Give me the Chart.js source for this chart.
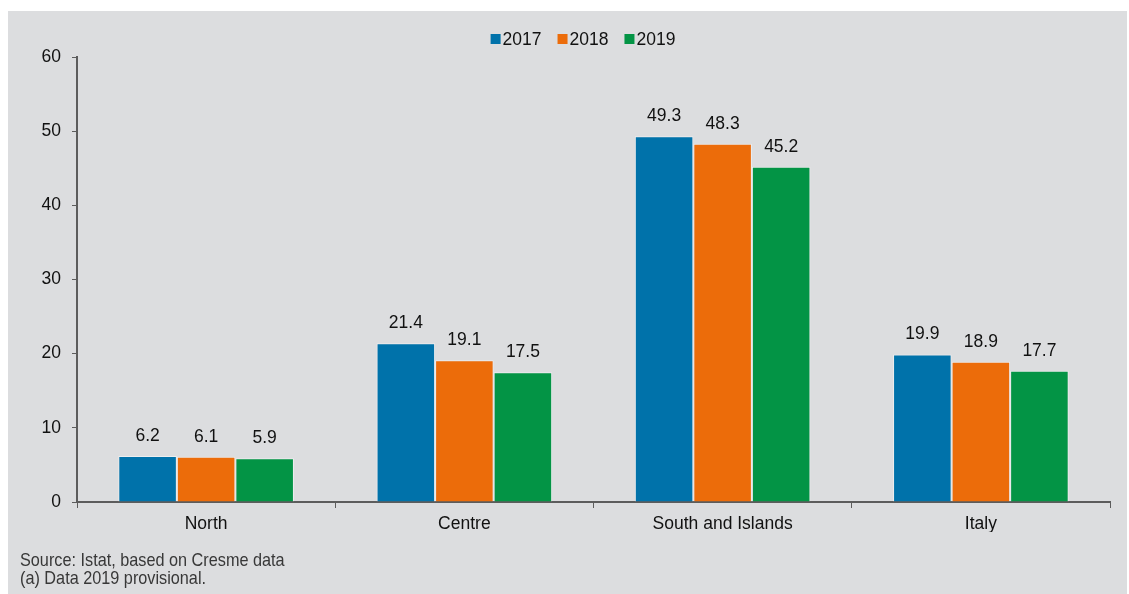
<!DOCTYPE html>
<html>
<head>
<meta charset="utf-8">
<script src="https://cdn.jsdelivr.net/npm/chart.js@4/dist/chart.umd.min.js"></script>
<style>
	body	{ margin: 0; background: #ffffff; }
	#panel	{ position: absolute; left: 8px; top: 11px; width: 1119px; height: 583px; background: #dcdddf; }
	#wrap	{ position: absolute; left: 0; top: 0; width: 1129px; height: 594px; }
	#note	{ position: absolute; left: 20px; top: 551px; font: 19px "Liberation Sans", Arial, sans-serif;
			  color: #383838; line-height: 18px; transform: scaleX( 0.855 ); transform-origin: left top; white-space: nowrap; }
</style>
</head>
<body>
<div id="panel"></div>
<div id="wrap"><canvas id="chart" width="1129" height="594"></canvas></div>
<div id="note">Source: Istat, based on Cresme data<br>(a) Data 2019 provisional.</div>
<script>
const CATEGORIES	= [ 'North', 'Centre', 'South and Islands', 'Italy' ];
const YEARS		= [ '2017', '2018', '2019' ];
const V2017		= [ 6.2, 21.4, 49.3, 19.9 ];
const V2018		= [ 6.1, 19.1, 48.3, 18.9 ];
const V2019		= [ 5.9, 17.5, 45.2, 17.7 ];
const Y_TICKS		= [ 0, 10, 20, 30, 40, 50, 60 ];

const COLORS	= [ '#0072aa', '#ec6c0a', '#039445' ];
const AXIS	= '#5c5c5c';
const INK	= '#111111';
const FONT	= '"Liberation Sans", Arial, sans-serif';

// value labels above each bar
const valueLabels = {
	id: 'valueLabels',
	afterDatasetsDraw( chart ) {
		const ctx = chart.ctx;
		ctx.save();
		ctx.font		= '17.5px ' + FONT;
		ctx.fillStyle		= INK;
		ctx.textAlign		= 'center';
		ctx.textBaseline	= 'alphabetic';
		chart.data.datasets.forEach( ( ds, i ) => {
			chart.getDatasetMeta( i ).data.forEach( ( bar, j ) => {
				ctx.fillText( ds.data[ j ].toFixed( 1 ), bar.x, bar.y - 15 );
			} );
		} );
		ctx.restore();
	}
};

// compact legend: square swatch right next to the text
const topLegend = {
	id: 'topLegend',
	afterDraw( chart ) {
		const ctx	= chart.ctx;
		const box	= 10, gap = 2, space = 16, cy = 39, cx = 583;
		ctx.save();
		ctx.font		= '17.5px ' + FONT;
		ctx.textBaseline	= 'middle';
		ctx.textAlign		= 'left';
		const items	= chart.data.datasets.map( ds => ( { text: ds.label, color: ds.backgroundColor, w: ctx.measureText( ds.label ).width } ) );
		let total	= items.reduce( ( s, it ) => s + box + gap + it.w, 0 ) + space * ( items.length - 1 );
		let x		= cx - total / 2;
		for ( const it of items ) {
			ctx.fillStyle = it.color;
			ctx.fillRect( x, cy - box / 2, box, box );
			ctx.fillStyle = INK;
			ctx.fillText( it.text, x + box + gap, cy + 1 );
			x += box + gap + it.w + space;
		}
		ctx.restore();
	}
};

const series = [ V2017, V2018, V2019 ];

new Chart( document.getElementById( 'chart' ), {
	type: 'bar',
	data: {
		labels: CATEGORIES,
		datasets: YEARS.map( ( y, i ) => ( {
			label: y,
			data: series[ i ],
			backgroundColor: COLORS[ i ],
			borderColor: 'rgba(255,255,255,0.5)',
			borderWidth: 1,
			categoryPercentage: 0.68,
			barPercentage: 1.0
		} ) )
	},
	options: {
		responsive: false,
		animation: false,
		layout: { padding: { left: 0, right: 19, top: 57, bottom: 62 } },
		plugins: {
			legend: { display: false },
			tooltip: { enabled: false }
		},
		scales: {
			x: {
				grid: { display: true, drawOnChartArea: false, drawTicks: true, tickLength: 6, color: AXIS, lineWidth: 1, offset: true },
				border: { display: true, color: AXIS, width: 2 },
				ticks: { color: INK, font: { family: FONT, size: 17.5 }, padding: 6 },
				afterFit( s ) { s.height = 30; }
			},
			y: {
				min: 0, max: 60,
				afterBuildTicks( s ) { s.ticks = Y_TICKS.map( v => ( { value: v } ) ); },
				grid: { display: true, drawOnChartArea: false, drawTicks: true, tickLength: 5, color: AXIS, lineWidth: 1 },
				border: { display: true, color: AXIS, width: 2 },
				ticks: { color: INK, font: { family: FONT, size: 17.5 }, padding: 11 },
				afterFit( s ) { s.width = 77; }
			}
		}
	},
	plugins: [ valueLabels, topLegend ]
} );
</script>
</body>
</html>
